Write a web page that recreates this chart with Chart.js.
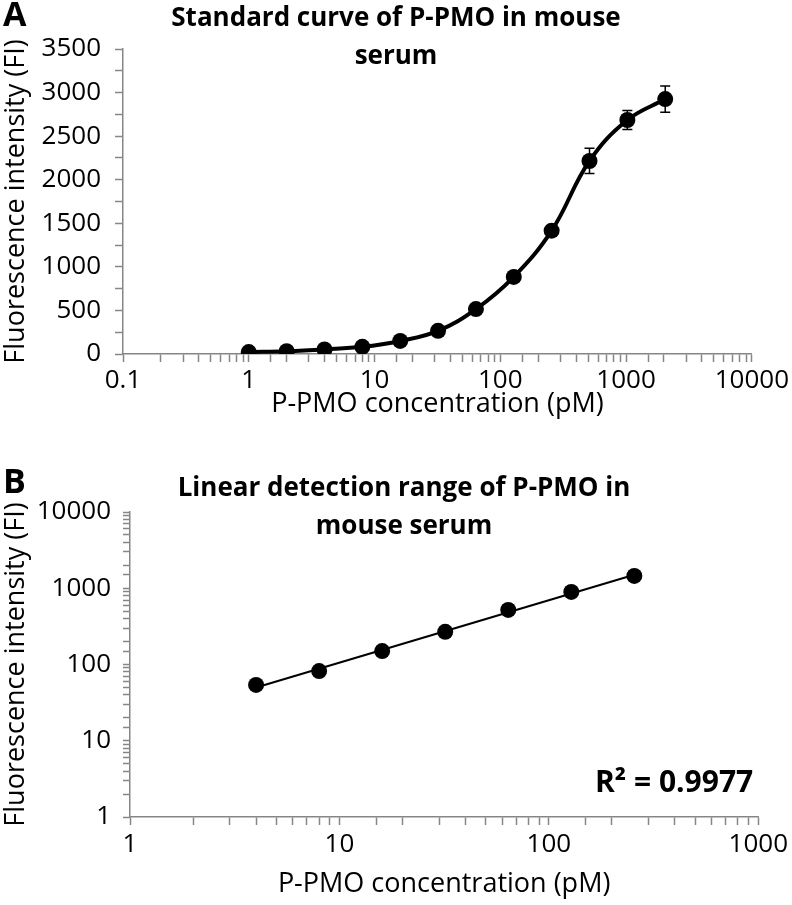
<!DOCTYPE html>
<html>
<head>
<meta charset="utf-8">
<script src="https://cdn.jsdelivr.net/npm/chart.js@4.4.0/dist/chart.umd.min.js"></script>
<style>
body { margin: 0; background: #fff; width: 792px; height: 905px; position: relative; overflow: hidden; font-family: "Open Sans", sans-serif; }
canvas { position: absolute; left: 0; }
.txt { position: absolute; font-weight: bold; color: #000; white-space: nowrap; }
.title { left: 0; width: 792px; text-align: center; font-size: 26px; line-height: 38px; }
</style>
</head>
<body>
<canvas id="chartA" width="792" height="450" style="top:0"></canvas>
<canvas id="chartB" width="792" height="455" style="top:450px"></canvas>
<div class="txt" style="left:3px;top:-10px;font-size:34px">A</div>
<div class="txt" style="left:3px;top:457px;font-size:34px">B</div>
<div class="txt title" style="top:-3px">Standard curve of P-PMO in mouse<br>serum</div>
<div class="txt title" style="top:467px;left:8px">Linear detection range of P-PMO in<br>mouse serum</div>
<script>
// panel A: full standard curve
const concA = [1, 2, 4, 8, 16, 32, 64, 128, 256, 512, 1024, 2048];
const fiA = [22, 32, 53, 82, 150, 266, 515, 885, 1415, 2215, 2685, 2925];
const errA = [0, 0, 0, 0, 0, 0, 0, 0, 0, 145, 110, 150];
const xLabelsA = [0.1, 1, 10, 100, 1000, 10000];
const yLabelsA = [0, 500, 1000, 1500, 2000, 2500, 3000, 3500];

// panel B: linear range, log-log
const concB = [4, 8, 16, 32, 64, 128, 256];
const fiB = [54, 82, 150, 268, 520, 895, 1450];
const trendX = [4, 256];
const trendY = [50, 1500];
const xLabelsB = [1, 10, 100, 1000];
const yLabelsB = [1, 10, 100, 1000, 10000];
const r2Text = 'R\u00b2 = 0.9977';

const FONT = 'Open Sans';
const axisCol = '#868686';

function pick(labels, v) {
    return labels.some(l => Math.abs(l - v) <= l * 1e-6 + 1e-9) ? String(v) : '';
}

function axis(type, labels, opts) {
    return {
        type: type,
        min: opts.min,
        max: opts.max,
        border: { color: axisCol, width: 1.5 },
        grid: { drawOnChartArea: false, drawTicks: true, tickLength: opts.tl, color: axisCol, tickWidth: 1.5 },
        ticks: {
            autoSkip: false, maxRotation: 0, color: '#000',
            font: { family: FONT, size: 26 }, padding: opts.pad,
            stepSize: opts.step,
            callback: v => pick(labels, v)
        },
        title: {
            display: true, text: opts.title, color: '#000',
            font: { family: FONT, size: 27 }, padding: opts.tpad
        },
        afterFit: opts.fit
    };
}

const errorBars = {
    id: 'errorBars',
    afterDatasetsDraw(chart) {
        if (chart.canvas.id !== 'chartA') return;
        const ctx = chart.ctx, x = chart.scales.x, y = chart.scales.y;
        ctx.save();
        ctx.strokeStyle = '#000';
        ctx.lineWidth = 1.5;
        concA.forEach((c, i) => {
            if (!errA[i]) return;
            const px = x.getPixelForValue(c);
            const top = y.getPixelForValue(fiA[i] + errA[i]);
            const bot = y.getPixelForValue(fiA[i] - errA[i]);
            ctx.beginPath();
            ctx.moveTo(px, top); ctx.lineTo(px, bot);
            ctx.moveTo(px - 5, top); ctx.lineTo(px + 5, top);
            ctx.moveTo(px - 5, bot); ctx.lineTo(px + 5, bot);
            ctx.stroke();
        });
        ctx.restore();
    }
};

const r2Label = {
    id: 'r2Label',
    afterDraw(chart) {
        if (chart.canvas.id !== 'chartB') return;
        const ctx = chart.ctx;
        ctx.save();
        ctx.fillStyle = '#000';
        ctx.font = 'bold 30px "Open Sans"';
        ctx.textBaseline = 'alphabetic';
        ctx.textAlign = 'left';
        ctx.fillText(r2Text, 595, 342);
        ctx.restore();
    }
};

new Chart(document.getElementById('chartA'), {
    type: 'line',
    data: {
        datasets: [{
            data: concA.map((c, i) => ({ x: c, y: fiA[i] })),
            borderColor: '#000',
            borderWidth: 4,
            tension: 0.4,
            pointRadius: 8,
            pointBackgroundColor: '#000',
            pointBorderWidth: 0
        }]
    },
    options: {
        responsive: false,
        animation: false,
        layout: { padding: { top: 49, right: 40, left: 0, bottom: 0 } },
        plugins: { legend: { display: false }, tooltip: { enabled: false } },
        scales: {
            x: axis('logarithmic', xLabelsA, { min: 0.1, max: 10000, tl: 8, pad: 3,
                title: 'P-PMO concentration (pM)', tpad: { top: 0, bottom: 29 },
                fit: s => { s.height = 96; } }),
            y: axis('linear', yLabelsA, { min: 0, max: 3500, step: 250, tl: 8, pad: 14,
                title: 'Fluorescence intensity (FI)', tpad: { top: 0, bottom: 0 },
                fit: s => { s.width = 123; } })
        }
    },
    plugins: [errorBars]
});

new Chart(document.getElementById('chartB'), {
    type: 'scatter',
    data: {
        datasets: [{
            data: concB.map((c, i) => ({ x: c, y: fiB[i] })),
            showLine: false,
            pointRadius: 8,
            pointBackgroundColor: '#000',
            pointBorderWidth: 0,
            order: 1
        }, {
            type: 'line',
            data: trendX.map((c, i) => ({ x: c, y: trendY[i] })),
            borderColor: '#000',
            borderWidth: 2,
            pointRadius: 0,
            order: 2
        }]
    },
    options: {
        responsive: false,
        animation: false,
        layout: { padding: { top: 62, right: 32, left: 0, bottom: 0 } },
        plugins: { legend: { display: false }, tooltip: { enabled: false } },
        scales: {
            x: axis('logarithmic', xLabelsB, { min: 1, max: 1000, tl: 8, pad: 4,
                title: 'P-PMO concentration (pM)', tpad: { top: 0, bottom: 4 },
                fit: s => { s.height = 88; } }),
            y: axis('logarithmic', yLabelsB, { min: 1, max: 10000, tl: 7, pad: 12,
                title: 'Fluorescence intensity (FI)', tpad: { top: 0, bottom: 0 },
                fit: s => { s.width = 130; } })
        }
    },
    plugins: [r2Label]
});
</script>
</body>
</html>
